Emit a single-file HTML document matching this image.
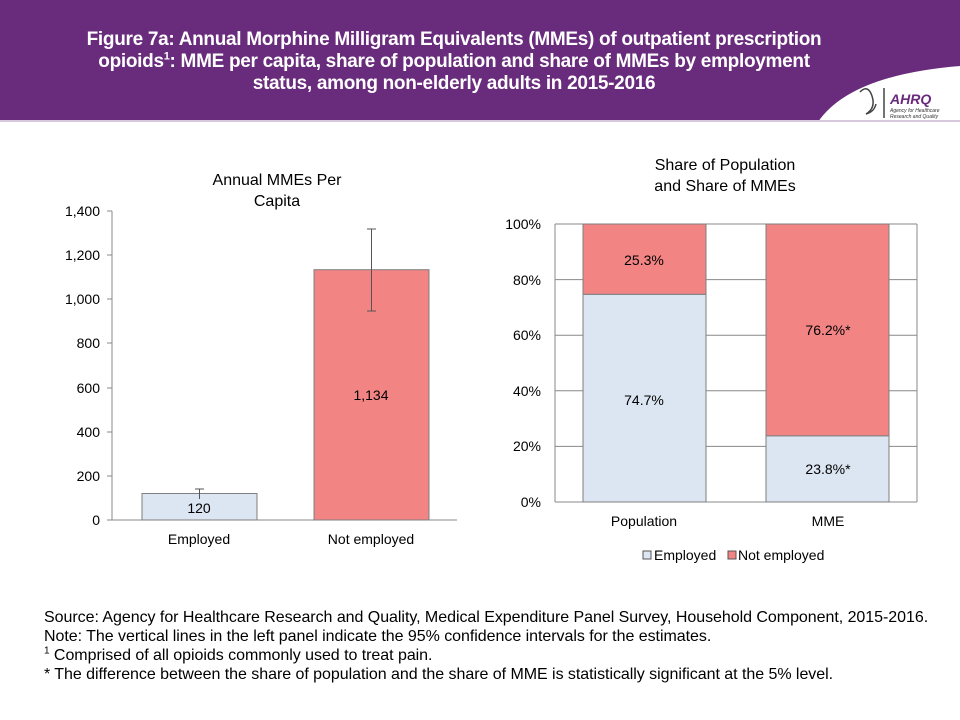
<!DOCTYPE html>
<html><head><style>
body{margin:0;width:960px;height:720px;background:#fff;font-family:"Liberation Sans",sans-serif;overflow:hidden;position:relative}
.hdr{position:absolute;left:0;top:0;width:960px;height:120px;background:#692b7c}
.title{position:absolute;left:-46px;top:29px;width:1000px;text-align:center;color:#fff;font-weight:bold;font-size:19px;line-height:22px;letter-spacing:-0.3px;transform:scaleX(1.0);transform-origin:center}
.note{position:absolute;left:44px;top:608px;font-size:16px;line-height:19px;color:#000;letter-spacing:-0.04px}
</style></head><body>
<div class="hdr"></div>
<svg style="position:absolute;left:0;top:0" width="960" height="720">
<path d="M818,122 Q850,75 960,66 L960,122 Z" fill="#fff"/>
<line x1="0" y1="121" x2="960" y2="121" stroke="#d8c8dc" stroke-width="2"/>
<g fill="none" stroke="#444" stroke-width="1.5"><path d="M860,92 q8,-8 12,4 q4,12 -6,18 q8,-2 10,-10"/><line x1="884" y1="88" x2="884" y2="118"/></g>
<text x="890" y="104" font-family="Liberation Sans" font-weight="bold" font-style="italic" font-size="14" fill="#6a2a7c">AHRQ</text>
<text x="890" y="112" font-family="Liberation Sans" font-style="italic" font-size="5" fill="#333">Agency for Healthcare</text>
<text x="890" y="118" font-family="Liberation Sans" font-style="italic" font-size="5" fill="#333">Research and Quality</text>

<g font-family="Liberation Sans" font-size="14" fill="#000">
<text x="277" y="185" text-anchor="middle" font-size="16">Annual MMEs Per</text>
<text x="277" y="206" text-anchor="middle" font-size="16">Capita</text>
<g stroke="#888" stroke-width="1">
<line x1="112" y1="211" x2="112" y2="520"/>
<line x1="112" y1="520" x2="457" y2="520"/>
<line x1="107" y1="211" x2="112" y2="211"/><line x1="107" y1="255" x2="112" y2="255"/><line x1="107" y1="299" x2="112" y2="299"/><line x1="107" y1="343" x2="112" y2="343"/><line x1="107" y1="388" x2="112" y2="388"/><line x1="107" y1="432" x2="112" y2="432"/><line x1="107" y1="476" x2="112" y2="476"/><line x1="107" y1="520" x2="112" y2="520"/>
</g>
<g text-anchor="end"><text x="100" y="216">1,400</text><text x="100" y="260">1,200</text><text x="100" y="304">1,000</text><text x="100" y="348">800</text><text x="100" y="393">600</text><text x="100" y="437">400</text><text x="100" y="481">200</text><text x="100" y="525">0</text></g>
<rect x="142" y="493.5" width="115" height="26.5" fill="#dce6f2" stroke="#7f7f7f"/>
<rect x="314" y="269.7" width="115" height="250.3" fill="#f28484" stroke="#7f7f7f"/>
<g stroke="#555"><line x1="199.5" y1="489" x2="199.5" y2="499"/><line x1="195" y1="489" x2="204" y2="489"/>
<line x1="371.5" y1="229" x2="371.5" y2="311"/><line x1="367" y1="229" x2="376" y2="229"/><line x1="367" y1="311" x2="376" y2="311"/></g>
<text x="199" y="513" text-anchor="middle">120</text>
<text x="371" y="400" text-anchor="middle">1,134</text>
<text x="199" y="544" text-anchor="middle">Employed</text>
<text x="371" y="544" text-anchor="middle">Not employed</text>

<text x="725" y="170" text-anchor="middle" font-size="16">Share of Population</text>
<text x="725" y="191" text-anchor="middle" font-size="16">and Share of MMEs</text>
<g stroke="#888" stroke-width="1">
<line x1="555" y1="224" x2="917" y2="224"/><line x1="555" y1="279.6" x2="917" y2="279.6"/><line x1="555" y1="335.2" x2="917" y2="335.2"/><line x1="555" y1="390.8" x2="917" y2="390.8"/><line x1="555" y1="446.4" x2="917" y2="446.4"/><line x1="555" y1="502" x2="917" y2="502"/>
<line x1="555" y1="224" x2="555" y2="502"/><line x1="917" y1="224" x2="917" y2="502"/>
</g>
<g text-anchor="end"><text x="541" y="229">100%</text><text x="541" y="285">80%</text><text x="541" y="340">60%</text><text x="541" y="396">40%</text><text x="541" y="451">20%</text><text x="541" y="507">0%</text></g>
<rect x="583" y="294.3" width="123" height="207.7" fill="#dce6f2" stroke="#7f7f7f"/>
<rect x="583" y="224" width="123" height="70.3" fill="#f28484" stroke="#7f7f7f"/>
<rect x="766" y="435.8" width="123" height="66.2" fill="#dce6f2" stroke="#7f7f7f"/>
<rect x="766" y="224" width="123" height="211.8" fill="#f28484" stroke="#7f7f7f"/>
<text x="644" y="265" text-anchor="middle">25.3%</text>
<text x="644" y="405" text-anchor="middle">74.7%</text>
<text x="828" y="335" text-anchor="middle">76.2%*</text>
<text x="828" y="474" text-anchor="middle">23.8%*</text>
<text x="644" y="526" text-anchor="middle">Population</text>
<text x="828" y="526" text-anchor="middle">MME</text>
<rect x="643" y="551" width="8" height="8" fill="#dce6f2" stroke="#555"/>
<text x="654" y="560">Employed</text>
<rect x="728" y="551" width="8" height="8" fill="#f28484" stroke="#555"/>
<text x="738" y="560">Not employed</text>
</g>
</svg>
<div class="title">Figure 7a: Annual Morphine Milligram Equivalents (MMEs) of outpatient prescription<br>opioids<sup style="font-size:11px;line-height:0">1</sup>: MME per capita, share of population and share of MMEs by employment<br>status, among non-elderly adults in 2015-2016</div>
<div class="note">Source: Agency for Healthcare Research and Quality, Medical Expenditure Panel Survey, Household Component, 2015-2016.<br>Note: The vertical lines in the left panel indicate the 95% confidence intervals for the estimates.<br><sup style="font-size:10px;line-height:0">1</sup> Comprised of all opioids commonly used to treat pain.<br>* The difference between the share of population and the share of MME is statistically significant at the 5% level.</div>
</body></html>
